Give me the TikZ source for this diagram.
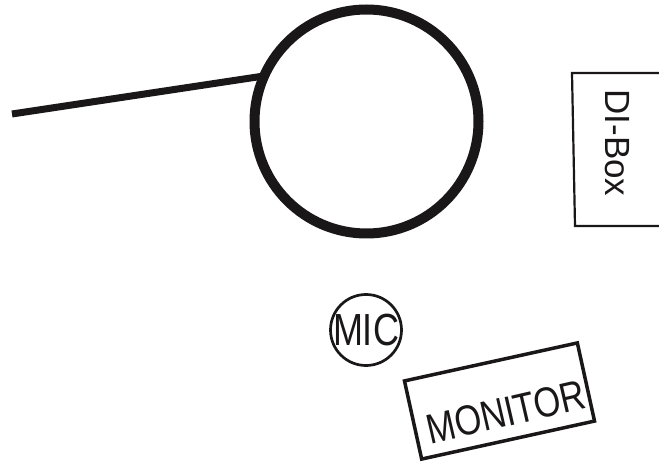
\documentclass[tikz,border=0pt]{standalone}
\usepackage{fontspec}
\usepackage{graphicx}
\setmainfont{Liberation Sans}
\definecolor{ink}{HTML}{1A1718}
\tikzset{
  bigring/.style={circle, draw=ink, line width=10pt, minimum size=224pt, inner sep=0pt, outer sep=0pt},
  thinring/.style={circle, draw=ink, line width=2.7pt, minimum size=71pt, inner sep=0pt},
  lbl/.style={inner sep=0pt, text=ink},
  boxline/.style={draw=ink, line width=3.5pt},
}
\begin{document}
\begin{tikzpicture}[x=1pt,y=-1pt]
\useasboundingbox (0,0) rectangle (659,462);
% big circle and stand line
\node[bigring] (drum) at (366.5,121.5) {};
\coordinate (standend) at (12,114);
\draw[ink, line width=7pt] (standend) -- (drum.156);
% DI-Box
\coordinate (dtr) at (662,73);
\coordinate (dtl) at (572,73);
\coordinate (dbl) at (575,226);
\coordinate (dbr) at (662,226);
\draw[boxline, line width=2.2pt] (dtr) -- (dtl) -- (dbl) -- (dbr);
\node[lbl, rotate=-90, font=\fontsize{35}{40}\selectfont] (dibox) at (617,143) {DI-Box};
% MIC
\node[thinring] (micring) at (366,330) {};
\node[lbl, font=\fontsize{45}{50}\selectfont] (mic) at (366,330) {\scalebox{0.8}[1]{MIC}};
% MONITOR
\node[boxline, rotate=12.4, minimum width=177pt, minimum height=80pt, inner sep=0pt] (monbox) at (499.5,401) {};
\node[lbl, rotate=13, font=\fontsize{42}{46}\selectfont] (mon) at (506,412) {\scalebox{0.82}[1]{MONITOR}};
\end{tikzpicture}
\end{document}
